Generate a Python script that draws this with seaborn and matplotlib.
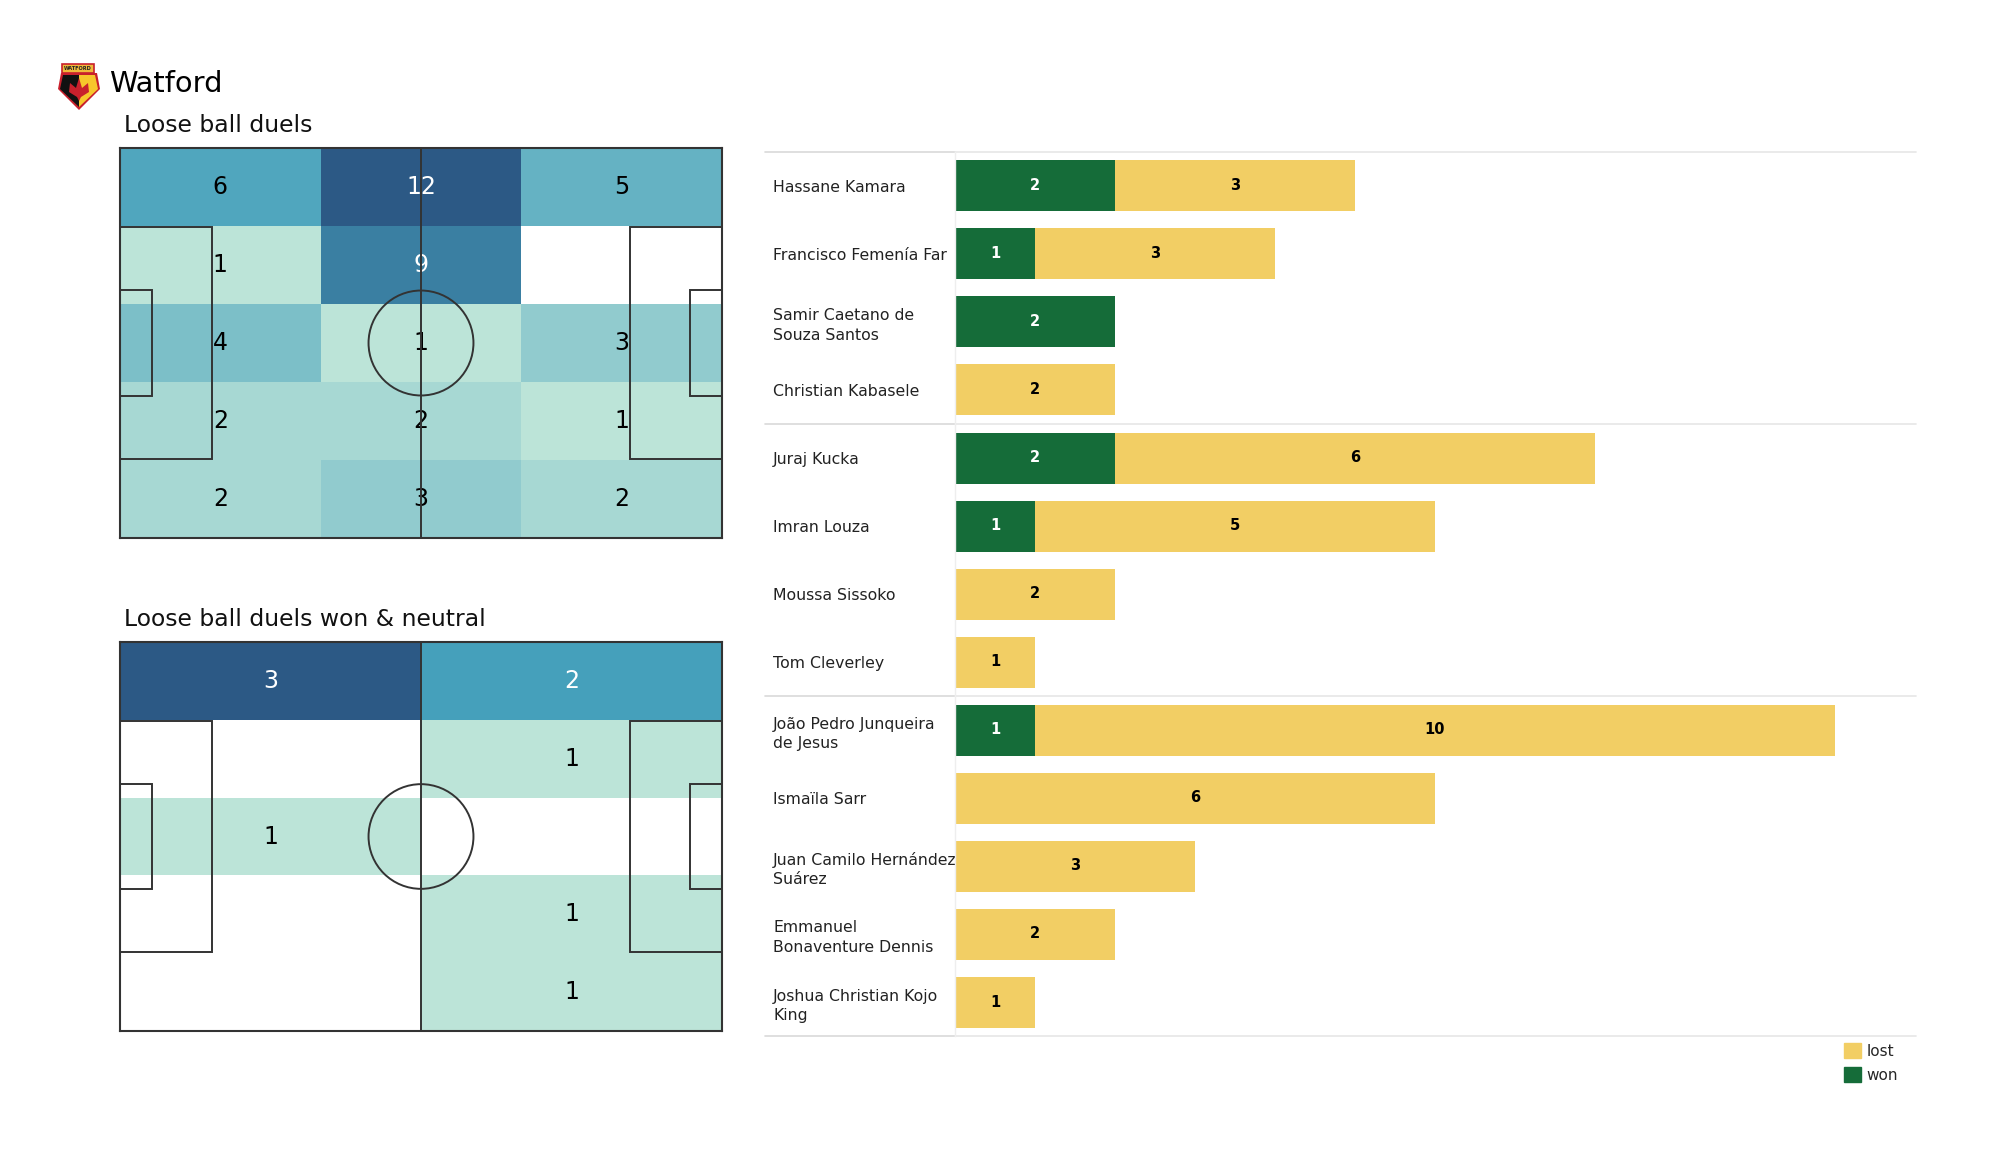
import numpy as np
import pandas as pd
import seaborn as sns
import matplotlib.pyplot as plt
from matplotlib.patches import Rectangle, Circle, Polygon, Patch

team = 'Watford'
title_all = 'Loose ball duels'
title_won = 'Loose ball duels won & neutral'

# zone counts, top row of the pitch first
duels_all = [[6, 12, 5],
             [1, 9, 0],
             [4, 1, 3],
             [2, 2, 1],
             [2, 3, 2]]
duels_won = [[3, 2],
             [0, 1],
             [1, 0],
             [0, 1],
             [0, 1]]

players = ['Hassane Kamara', 'Francisco Femenía Far', 'Samir Caetano de\nSouza Santos',
           'Christian Kabasele', 'Juraj Kucka', 'Imran Louza', 'Moussa Sissoko',
           'Tom Cleverley', 'João Pedro Junqueira\nde Jesus', 'Ismaïla Sarr',
           'Juan Camilo Hernández\nSuárez', 'Emmanuel\nBonaventure Dennis',
           'Joshua Christian Kojo\nKing']
won = [2, 1, 2, 0, 2, 1, 0, 0, 1, 0, 0, 0, 0]
lost = [3, 3, 0, 2, 6, 5, 2, 1, 10, 6, 3, 2, 1]
group_ends = [-0.5, 3.5, 7.5, 12.5]

won_col = '#156c39'
lost_col = '#f2ce64'
line_col = '#333333'
W, H = 2000, 1175

sns.set_theme(style='white')
plt.rcParams['font.family'] = 'DejaVu Sans'
heat_cmap = sns.blend_palette(['#bce4d8', '#45a0bb', '#2c5985'], as_cmap=True)


def add_ax(x0, y0, x1, y1):
    # position given in pixels from the top left of the picture
    return fig.add_axes([x0 / W, 1 - y1 / H, (x1 - x0) / W, (y1 - y0) / H])


def draw_pitch(box):
    ax = add_ax(*box)
    ax.patch.set_alpha(0)
    ax.set(xlim=(0, 105), ylim=(0, 68), xticks=[], yticks=[])
    for s in ax.spines.values():
        s.set_color(line_col)
        s.set_linewidth(1.5)
    lw = 1.4
    ax.plot([52.5, 52.5], [0, 68], color=line_col, lw=lw)
    for x, w in [(0, 16), (105 - 16, 16)]:
        ax.add_patch(Rectangle((x, 13.84), w, 40.32, fill=False, ec=line_col, lw=lw))
    for x, w in [(0, 5.5), (105 - 5.5, 5.5)]:
        ax.add_patch(Rectangle((x, 24.84), w, 18.32, fill=False, ec=line_col, lw=lw))
    ax.add_patch(Circle((52.5, 34), 9.15, fill=False, ec=line_col, lw=lw))


def draw_heat(values, box):
    vals = np.array(values)
    ax = add_ax(*box)
    sns.heatmap(vals, mask=vals == 0, annot=True, fmt='d', cmap=heat_cmap, vmin=1, vmax=vals.max(),
                cbar=False, xticklabels=False, yticklabels=False, annot_kws={'size': 17}, ax=ax)
    for t in ax.texts:
        t.set_color('white' if int(t.get_text()) > 0.6 * vals.max() else 'black')
    draw_pitch(box)


fig = plt.figure(figsize=(W / 100, H / 100), dpi=100, facecolor='white')

draw_heat(duels_all, (120, 148, 722, 538))
draw_heat(duels_won, (120, 642, 722, 1031))

# bars: totals first, won drawn over them
df = pd.DataFrame({'player': players, 'won': won, 'lost': lost})
df['total'] = df.won + df.lost

ax = add_ax(955, 152, 1916, 1036)
sns.barplot(data=df, x='total', y='player', color=lost_col, saturation=1, width=0.75, linewidth=0, ax=ax)
sns.barplot(data=df, x='won', y='player', color=won_col, saturation=1, width=0.75, linewidth=0, ax=ax)
ax.set(xlim=(0, 961 / 80), ylim=(12.5, -0.5), xlabel='', ylabel='', xticks=[])
ax.tick_params(axis='y', length=0, pad=131)
for lab in ax.get_yticklabels():
    lab.set_ha('left')
    lab.set_multialignment('left')
    lab.set_fontsize(11.3)
    lab.set_linespacing(1.35)
    lab.set_color('#222222')
sns.despine(ax=ax, left=False, bottom=True)
ax.spines['left'].set_color('#eeeeee')
ax.spines['left'].set_linewidth(1)
for y in group_ends:
    ax.plot([-190 / 961, 0], [y, y], transform=ax.get_yaxis_transform(), color='#d9d9d9', lw=1.2, clip_on=False)
    ax.plot([0, 1], [y, y], transform=ax.get_yaxis_transform(), color='#e6e6e6', lw=1.2, clip_on=False)
for i, (w, l) in enumerate(zip(won, lost)):
    if w:
        ax.text(w / 2, i, str(w), ha='center', va='center', color='white', fontsize=10.5, fontweight='bold')
    if l:
        ax.text(w + l / 2, i, str(l), ha='center', va='center', color='black', fontsize=10.5, fontweight='bold')

handles = [Patch(color=lost_col, label='lost'), Patch(color=won_col, label='won')]
fig.legend(handles=handles, loc='upper left', bbox_to_anchor=(1838 / W, 1 - 1037 / H), frameon=False, fontsize=11,
           handlelength=1.1, handleheight=1.1, handletextpad=0.35, labelspacing=0.55, borderpad=0.4, borderaxespad=0)

# titles and crest, in pixel coordinates
top = add_ax(0, 0, W, H)
top.set(xlim=(0, W), ylim=(H, 0))
top.axis('off')
top.text(109, 84.5, team, fontsize=20.8, va='center', color='black')
top.text(124, 126, title_all, fontsize=16.9, va='center', color='#111111')
top.text(124, 620, title_won, fontsize=16.9, va='center', color='#111111')

top.add_patch(Polygon([(61, 73), (97, 73), (100, 89), (79, 110), (58, 89)], fc='#c8202c', ec='none'))
top.add_patch(Polygon([(79, 75), (95, 75), (98, 89), (79, 107)], fc='#f7c62b', ec='none'))
top.add_patch(Polygon([(79, 75), (63, 75), (60, 89), (79, 107)], fc='#111111', ec='none'))
top.add_patch(Polygon([(79, 78), (82, 88), (88, 83), (89, 92), (81, 97), (79, 101), (77, 97), (69, 92), (70, 83), (76, 88)],
                      fc='#c8202c', ec='none'))
top.add_patch(Rectangle((62, 64), 32, 9, fc='#f0b93a', ec='#c8202c', lw=1.2))
top.text(78, 68.5, 'WATFORD', fontsize=3.6, fontweight='bold', ha='center', va='center', color='#222222')

fig.savefig('out.png', dpi=100)
plt.close()
